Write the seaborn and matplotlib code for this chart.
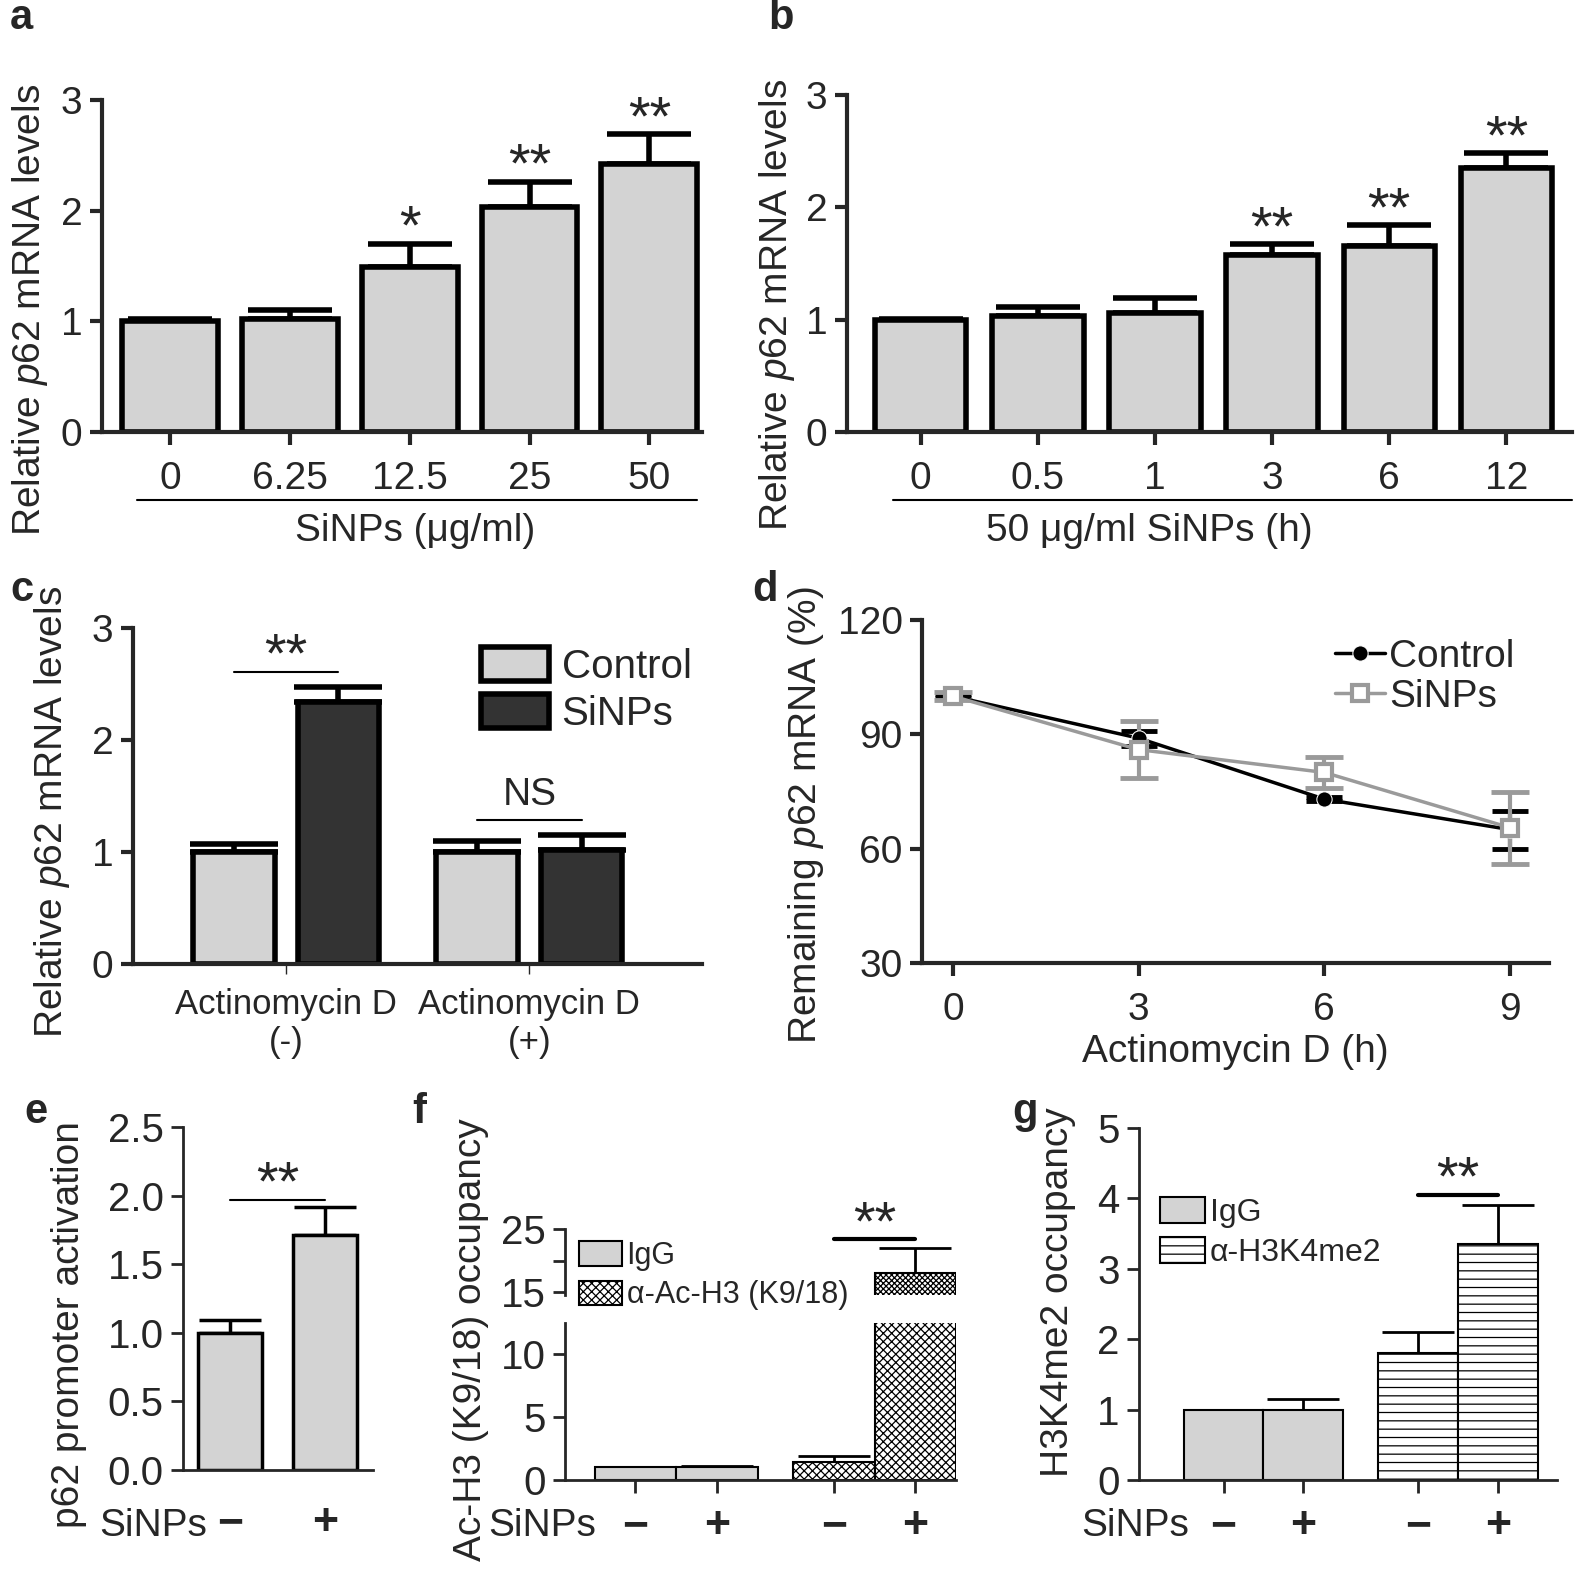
import numpy as np
import pandas as pd
import matplotlib
matplotlib.use('Agg')
import matplotlib.pyplot as plt
import seaborn as sns
from matplotlib.patches import Patch
from matplotlib.lines import Line2D

sns.set_style('ticks')
plt.rcParams['font.family'] = ['Liberation Sans', 'DejaVu Sans']
plt.rcParams['mathtext.fontset'] = 'custom'
plt.rcParams['mathtext.rm'] = 'Liberation Sans'
plt.rcParams['mathtext.it'] = 'Liberation Sans:italic'
plt.rcParams['hatch.linewidth'] = 0.9

# ---- data ----
dose_labels = ['0', '6.25', '12.5', '25', '50']
dose_mean = [1.00, 1.02, 1.49, 2.03, 2.42]
dose_sem = [0.02, 0.08, 0.21, 0.23, 0.27]
dose_sig = ['', '', '*', '**', '**']

time_labels = ['0', '0.5', '1', '3', '6', '12']
time_mean = [1.00, 1.03, 1.06, 1.58, 1.66, 2.35]
time_sem = [0.01, 0.08, 0.13, 0.09, 0.18, 0.13]
time_sig = ['', '', '', '**', '**', '**']

actd_groups = ['Actinomycin D\n(-)', 'Actinomycin D\n(+)']
actd_control = [1.00, 1.00]
actd_control_sem = [0.07, 0.10]
actd_sinps = [2.34, 1.02]
actd_sinps_sem = [0.13, 0.13]

decay_hours = [0, 3, 6, 9]
decay_control = [100, 89, 73, 65]
decay_control_sem = [0.5, 2.0, 0.5, 5.0]
decay_sinps = [100, 86, 80, 65.5]
decay_sinps_sem = [1.0, 7.5, 4.0, 9.5]

signs = ['\u2212', '+']
promoter_mean = [1.00, 1.71]
promoter_sem = [0.09, 0.21]

ac_igg = [1.0, 1.0]
ac_igg_sem = [0.0, 0.12]
ac_h3 = [1.4, 18.0]
ac_h3_sem = [0.5, 4.0]

me2_igg = [1.0, 1.0]
me2_igg_sem = [0.0, 0.15]
me2_h3 = [1.8, 3.35]
me2_h3_sem = [0.3, 0.55]

GRAY = '#d3d3d3'
DARK = '#333333'
W, H = 1595, 1581
fig = plt.figure(figsize=(W / 100, H / 100), dpi=100)


def add_ax(left, right, top, bottom):
    return fig.add_axes([left / W, 1 - bottom / H, (right - left) / W, (bottom - top) / H])


def style(ax, lw, size=28):
    sns.despine(ax=ax)
    ax.spines['left'].set_linewidth(lw)
    ax.spines['bottom'].set_linewidth(lw)
    ax.tick_params(width=lw, length=9, labelsize=size, direction='out', pad=5)
    ax.set_xlabel('')
    ax.set_ylabel('')


def ftext(x, y, s, **kw):
    kw.setdefault('fontsize', 28)
    fig.text(x / W, 1 - y / H, s, ha=kw.pop('ha', 'center'), va=kw.pop('va', 'center'), **kw)


def fline(x0, x1, y, lw=1.5):
    fig.add_artist(Line2D([x0 / W, x1 / W], [1 - y / H, 1 - y / H], color='black', lw=lw))


def upper_err(ax, x, m, e, lw, cap):
    ax.errorbar(x, m, yerr=[np.zeros(len(m)), e], fmt='none', ecolor='black',
                elinewidth=lw, capsize=cap, capthick=lw, zorder=1)


def stars(ax, x, y, s, size=40, dy=0):
    if s:
        ax.annotate(s, (x, y), xytext=(0, dy), textcoords='offset points', ha='center',
                    va='baseline', fontsize=size, annotation_clip=False)


# ---- panel a ----
ax = add_ax(102, 702, 100, 432)
sns.barplot(x=dose_labels, y=dose_mean, order=dose_labels, color=GRAY, saturation=1,
            edgecolor='black', linewidth=4, width=0.8, ax=ax, zorder=2)
upper_err(ax, range(len(dose_mean)), dose_mean, dose_sem, 4, 30)
for i, s in enumerate(dose_sig):
    stars(ax, i, dose_mean[i] + dose_sem[i], s)
ax.set_xlim(-0.57, 4.44)
ax.set_ylim(0, 3)
ax.set_yticks([0, 1, 2, 3])
style(ax, 3)
ax.tick_params(axis='x', pad=12)
fline(137, 697, 500)
ftext(415, 531, 'SiNPs (\u03bcg/ml)')
ftext(30, 310, 'Relative $\\mathit{p62}$ mRNA levels', rotation=90)

# ---- panel b ----
ax = add_ax(847, 1572, 95, 432)
sns.barplot(x=time_labels, y=time_mean, order=time_labels, color=GRAY, saturation=1,
            edgecolor='black', linewidth=4, width=0.78, ax=ax, zorder=2)
upper_err(ax, range(len(time_mean)), time_mean, time_sem, 4, 30)
for i, s in enumerate(time_sig):
    stars(ax, i, time_mean[i] + time_sem[i], s)
ax.set_xlim(-0.63, 5.56)
ax.set_ylim(0, 3)
ax.set_yticks([0, 1, 2, 3])
style(ax, 3)
ax.tick_params(axis='x', pad=12)
fline(893, 1572, 500)
ftext(1149, 531, '50 \u03bcg/ml SiNPs (h)')
ftext(777, 305, 'Relative $\\mathit{p62}$ mRNA levels', rotation=90)

# ---- panel c ----
ax = add_ax(133, 702, 628, 964)
df_c = pd.DataFrame({'group': actd_groups * 2,
                     'treat': ['Control'] * 2 + ['SiNPs'] * 2,
                     'value': actd_control + actd_sinps})
sns.barplot(data=df_c, x='group', y='value', hue='treat', order=actd_groups,
            hue_order=['Control', 'SiNPs'], palette={'Control': GRAY, 'SiNPs': DARK},
            saturation=1, edgecolor='black', linewidth=4, width=0.86, gap=0.22,
            legend=False, ax=ax, zorder=2)
off = 0.215
upper_err(ax, np.arange(2) - off, actd_control, actd_control_sem, 4, 32)
upper_err(ax, np.arange(2) + off, actd_sinps, actd_sinps_sem, 4, 32)
ax.plot([-off, off], [2.61, 2.61], color='black', lw=1.5)
stars(ax, 0, 2.61, '**')
ax.plot([1 - off, 1 + off], [1.29, 1.29], color='black', lw=1.5)
ax.text(1, 1.35, 'NS', ha='center', va='bottom', fontsize=28)
ax.set_xlim(-0.63, 1.71)
ax.set_ylim(0, 3)
ax.set_yticks([0, 1, 2, 3])
style(ax, 3)
ax.tick_params(axis='x', width=1, length=7, labelsize=25, pad=10)
ax.legend(handles=[Patch(facecolor=GRAY, edgecolor='black', lw=4),
                   Patch(facecolor=DARK, edgecolor='black', lw=4)],
          labels=['Control', 'SiNPs'], loc='upper right', bbox_to_anchor=(1.01, 0.99),
          frameon=False, fontsize=29, handlelength=1.7, handleheight=0.9,
          handletextpad=0.3, labelspacing=0.2, borderaxespad=0)
ftext(52, 812, 'Relative $\\mathit{p62}$ mRNA levels', rotation=90)

# ---- panel d ----
ax = add_ax(922, 1549, 620, 963)
ax.errorbar(decay_hours, decay_control, yerr=decay_control_sem, fmt='none', ecolor='black',
            elinewidth=3, capsize=13, capthick=3.5)
ax.errorbar(decay_hours, decay_sinps, yerr=decay_sinps_sem, fmt='none', ecolor='#9a9a9a',
            elinewidth=3, capsize=14, capthick=3.5)
sns.lineplot(x=decay_hours, y=decay_control, color='black', marker='o', markersize=11,
             lw=2.5, ax=ax, label='Control')
sns.lineplot(x=decay_hours, y=decay_sinps, color='#9a9a9a', marker='s', markersize=12,
             markerfacecolor='white', markeredgecolor='#9a9a9a', markeredgewidth=3,
             lw=2.5, ax=ax, label='SiNPs')
ax.set_xlim(-0.5, 9.63)
ax.set_ylim(30, 120)
ax.set_xticks(decay_hours)
ax.set_yticks([30, 60, 90, 120])
style(ax, 3)
ax.tick_params(axis='x', pad=12)
ax.set_xlabel('Actinomycin D (h)', fontsize=28)
ax.legend(loc='upper right', bbox_to_anchor=(0.97, 0.99), frameon=False, fontsize=28,
          handlelength=1.3, handletextpad=0.1, labelspacing=0.1, borderaxespad=0)
ftext(806, 815, 'Remaining $\\mathit{p62}$ mRNA (%)', rotation=90)

# ---- panel e ----
ax = add_ax(183, 373, 1127, 1470)
sns.barplot(x=signs, y=promoter_mean, order=signs, color=GRAY, saturation=1,
            edgecolor='black', linewidth=2.5, width=0.67, ax=ax, zorder=2)
upper_err(ax, range(2), promoter_mean, promoter_sem, 2.5, 22)
ax.plot([0, 1], [1.97, 1.97], color='black', lw=1.5)
stars(ax, 0.5, 1.97, '**')
ax.set_xlim(-0.49, 1.5)
ax.set_ylim(0, 2.5)
ax.set_yticks([0, 0.5, 1, 1.5, 2, 2.5])
ax.set_yticklabels(['0.0', '0.5', '1.0', '1.5', '2.0', '2.5'])
style(ax, 2, size=29)
ax.tick_params(axis='x', length=0, labelsize=32, pad=24)
for t in ax.get_xticklabels():
    t.set_fontweight('bold')
ftext(153, 1526, 'SiNPs')
ftext(69, 1325, 'p62 promoter activation', rotation=90)


# ---- panel f (broken axis) ----
def chip_bars(ax, igg, h3, hatch, lw):
    df = pd.DataFrame({'ab': ['IgG', 'IgG', 'H3', 'H3'], 'sinps': signs * 2,
                       'value': igg + h3})
    sns.barplot(data=df, x='ab', y='value', hue='sinps', order=['IgG', 'H3'],
                hue_order=signs, palette={s: GRAY for s in signs}, saturation=1,
                edgecolor='black', linewidth=lw, width=0.82, gap=0, legend=False,
                ax=ax, zorder=2)
    for p in ax.patches:
        if p.get_x() + p.get_width() / 2 > 0.5:
            p.set_facecolor('white')
            p.set_hatch(hatch)


off = 0.205
ax_lo = add_ax(565, 956, 1323, 1480)
ax_hi = add_ax(565, 956, 1229, 1295)
for a, h in ((ax_lo, 'xxxx'), (ax_hi, 'xxxxxx')):
    chip_bars(a, ac_igg, ac_h3, h, 1.5)
    upper_err(a, np.arange(2) - off, [ac_igg[0], ac_h3[0]], [ac_igg_sem[0], ac_h3_sem[0]], 2, 26)
    upper_err(a, np.arange(2) + off, [ac_igg[1], ac_h3[1]], [ac_igg_sem[1], ac_h3_sem[1]], 2, 26)
    a.set_xlim(-0.56, 1.41)
ax_lo.set_ylim(0, 12.5)
ax_lo.set_yticks([0, 5, 10])
style(ax_lo, 2, size=29)
ax_lo.set_xticks([-off, off, 1 - off, 1 + off])
ax_lo.set_xticklabels(signs * 2)
ax_lo.tick_params(axis='x', labelsize=32, pad=10)
for t in ax_lo.get_xticklabels():
    t.set_fontweight('bold')
ax_hi.set_ylim(14.6, 25)
ax_hi.set_yticks([15, 20, 25])
ax_hi.set_yticklabels(['15', '', '25'])
style(ax_hi, 2, size=29)
ax_hi.spines['bottom'].set_visible(False)
ax_hi.set_xticks([])
ax_hi.plot([1 - off, 1 + off], [23.4, 23.4], color='black', lw=3, clip_on=False)
stars(ax_hi, 1, 23.4, '**')
ax_hi.legend(handles=[Patch(facecolor=GRAY, edgecolor='black', lw=1.5),
                      Patch(facecolor='white', edgecolor='black', lw=1.5, hatch='xxxx')],
             labels=['IgG', '\u03b1-Ac-H3 (K9/18)'], loc='upper left',
             bbox_to_anchor=(0.005, 1.0), frameon=False, fontsize=22, handlelength=1.4,
             handleheight=0.85, handletextpad=0.15, labelspacing=0.3, borderaxespad=0)
ftext(542, 1526, 'SiNPs')
ftext(471, 1340, 'Ac-H3 (K9/18) occupancy', rotation=90)

# ---- panel g ----
ax = add_ax(1139, 1557, 1128, 1480)
chip_bars(ax, me2_igg, me2_h3, '--', 1.5)
upper_err(ax, np.arange(2) - off, [me2_igg[0], me2_h3[0]], [me2_igg_sem[0], me2_h3_sem[0]], 2, 26)
upper_err(ax, np.arange(2) + off, [me2_igg[1], me2_h3[1]], [me2_igg_sem[1], me2_h3_sem[1]], 2, 26)
ax.plot([1 - off, 1 + off], [4.05, 4.05], color='black', lw=3)
stars(ax, 1, 4.05, '**')
ax.set_xlim(-0.64, 1.51)
ax.set_ylim(0, 5)
ax.set_yticks([0, 1, 2, 3, 4, 5])
style(ax, 2, size=29)
ax.set_xticks([-off, off, 1 - off, 1 + off])
ax.set_xticklabels(signs * 2)
ax.tick_params(axis='x', labelsize=32, pad=10)
for t in ax.get_xticklabels():
    t.set_fontweight('bold')
ax.legend(handles=[Patch(facecolor=GRAY, edgecolor='black', lw=1.5),
                   Patch(facecolor='white', edgecolor='black', lw=1.5, hatch='--')],
          labels=['IgG', '\u03b1-H3K4me2'], loc='upper left', bbox_to_anchor=(0.02, 0.84),
          frameon=False, fontsize=23, handlelength=1.4, handleheight=0.85,
          handletextpad=0.15, labelspacing=0.3, borderaxespad=0)
ftext(1135, 1526, 'SiNPs')
ftext(1058, 1292, 'H3K4me2 occupancy', rotation=90)

# ---- panel letters ----
for x, y, s in [(10, 18, 'a'), (768, 18, 'b'), (10, 590, 'c'), (752, 590, 'd'),
                (24, 1112, 'e'), (412, 1112, 'f'), (1012, 1112, 'g')]:
    ftext(x, y, s, fontsize=30, fontweight='bold', ha='left')

fig.savefig('out.png', dpi=100, facecolor='white')
